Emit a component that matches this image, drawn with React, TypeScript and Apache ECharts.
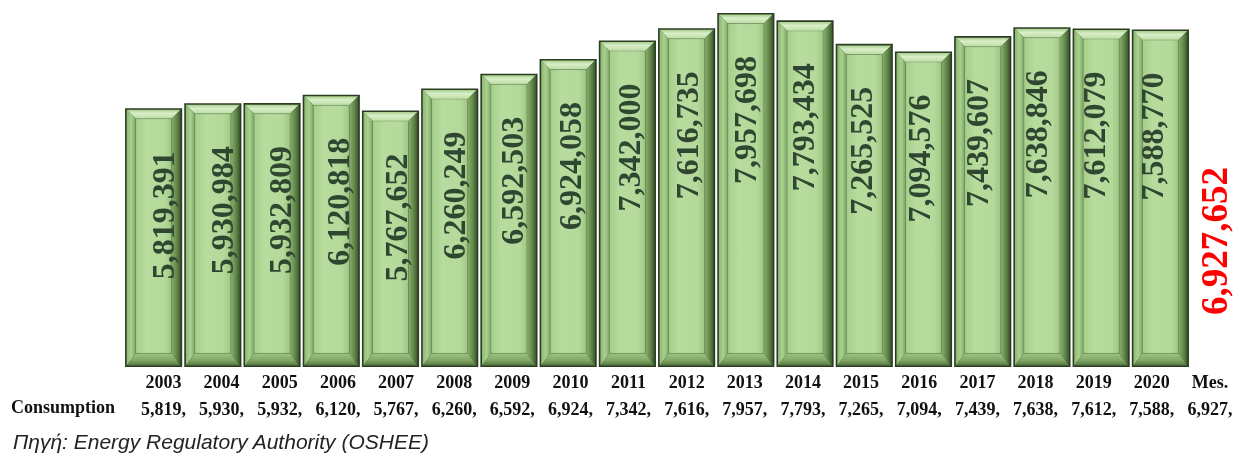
import React, { useEffect, useRef } from 'react';
import * as echarts from 'echarts';

const years = ['2003', '2004', '2005', '2006', '2007', '2008', '2009', '2010', '2011', '2012', '2013', '2014', '2015', '2016', '2017', '2018', '2019', '2020'];
const consumption = [5819391, 5930984, 5932809, 6120818, 5767652, 6260249, 6592503, 6924058, 7342000, 7616735, 7957698, 7793434, 7265525, 7094576, 7439607, 7638846, 7612079, 7588770];
const meanCategory = 'Mes.';
const rowTitle = 'Consumption';
const sourceText = 'Πηγή: Energy Regulatory Authority (OSHEE)';

const SERIF = '"Liberation Serif", "Times New Roman", serif';

export default function App() {
  const ref = useRef<HTMLDivElement>(null);
  useEffect(() => {
    const chart = echarts.init(ref.current!, null, { renderer: 'svg' });
    const mean = consumption.reduce((a, b) => a + b, 0) / consumption.length;
    const fmt = (v: number) => Math.round(v).toLocaleString('en-US');
    const tableCats = [...years, meanCategory];
    const tableVals = [...consumption, mean].map((v) => Math.floor(v / 1000).toLocaleString('en-US') + ',');
    const G = echarts.graphic;

    const renderItem = (params: any, api: any) => {
      const cat = api.value(0);
      const val = api.value(1);
      const top = api.coord([cat, val]);
      const bot = api.coord([cat, 0]);
      const bw = api.size([1, 0])[0] * 0.965;
      const x0 = top[0] - bw / 2;
      const x1 = top[0] + bw / 2;
      const y0 = top[1];
      const y1 = bot[1];
      const o = 1.6;
      const b = 9;
      const bb = 12;
      const ox0 = x0 + o, ox1 = x1 - o, oy0 = y0 + o, oy1 = y1 - o;
      const ix0 = ox0 + b, ix1 = ox1 - b, iy0 = oy0 + b, iy1 = oy1 - bb;
      return {
        type: 'group',
        children: [
          { type: 'rect', shape: { x: x0, y: y0, width: bw, height: y1 - y0 }, style: { fill: '#2a3d22' } },
          {
            type: 'polygon',
            shape: { points: [[ox0, oy0], [ox1, oy0], [ix1, iy0], [ix0, iy0]] },
            style: { fill: new G.LinearGradient(0, 0, 0, 1, [{ offset: 0, color: '#a9cf8e' }, { offset: 0.4, color: '#d8efc8' }, { offset: 1, color: '#bcdca5' }]) },
          },
          {
            type: 'polygon',
            shape: { points: [[ox0, oy0], [ix0, iy0], [ix0, iy1], [ox0, oy1]] },
            style: { fill: new G.LinearGradient(0, 0, 1, 0, [{ offset: 0, color: '#8fb874' }, { offset: 0.5, color: '#a9d08e' }, { offset: 1, color: '#7fa866' }]) },
          },
          {
            type: 'polygon',
            shape: { points: [[ox1, oy0], [ox1, oy1], [ix1, iy1], [ix1, iy0]] },
            style: { fill: new G.LinearGradient(0, 0, 1, 0, [{ offset: 0, color: '#8ab26f' }, { offset: 0.6, color: '#5f8448' }, { offset: 1, color: '#3d5a2c' }]) },
          },
          {
            type: 'polygon',
            shape: { points: [[ox0, oy1], [ix0, iy1], [ix1, iy1], [ox1, oy1]] },
            style: { fill: new G.LinearGradient(0, 0, 0, 1, [{ offset: 0, color: '#9ec584' }, { offset: 0.6, color: '#7ea564' }, { offset: 1, color: '#54763e' }]) },
          },
          {
            type: 'rect',
            shape: { x: ix0, y: iy0, width: ix1 - ix0, height: iy1 - iy0 },
            style: {
              fill: new G.LinearGradient(0, 0, 1, 0, [{ offset: 0, color: '#a6ce8b' }, { offset: 0.3, color: '#b7dc9e' }, { offset: 0.8, color: '#b4d99b' }, { offset: 1, color: '#9fc784' }]),
              stroke: 'rgba(70,100,50,0.35)',
              lineWidth: 0.8,
            },
          },
        ],
      };
    };

    chart.setOption({
      animation: false,
      grid: [
        { left: 124, right: 49, top: 0, bottom: 89 },
        { left: 134.4, width: 1105.8, top: 0, bottom: 89 },
      ],
      xAxis: [
        { type: 'category', gridIndex: 0, data: years, show: false },
        {
          type: 'category', gridIndex: 1, data: tableCats, position: 'bottom',
          axisLine: { show: false }, axisTick: { show: false },
          axisLabel: { interval: 0, margin: 6, color: '#111', fontFamily: SERIF, fontWeight: 'bold', fontSize: 18 },
        },
        {
          type: 'category', gridIndex: 1, data: tableCats, position: 'bottom', offset: 27,
          axisLine: { show: false }, axisTick: { show: false },
          axisLabel: {
            interval: 0, margin: 6, color: '#111', fontFamily: SERIF, fontWeight: 'bold', fontSize: 18,
            formatter: (_v: string, i: number) => tableVals[i],
          },
        },
      ],
      yAxis: [
        { type: 'value', gridIndex: 0, min: 0, max: 8250000, show: false },
        { type: 'value', gridIndex: 1, min: 0, max: 8250000, show: false },
      ],
      series: [
        {
          type: 'custom',
          xAxisIndex: 0,
          yAxisIndex: 0,
          data: consumption.map((v, i) => [i, v]),
          encode: { x: 0, y: 1 },
          renderItem,
          silent: true,
        },
        {
          type: 'bar',
          xAxisIndex: 1,
          yAxisIndex: 1,
          data: consumption,
          barWidth: 4,
          itemStyle: { color: 'rgba(0,0,0,0)' },
          silent: true,
          label: {
            show: true,
            position: 'insideTop',
            distance: 43,
            rotate: 90,
            align: 'right',
            verticalAlign: 'middle',
            color: '#2f4631',
            fontFamily: SERIF,
            fontWeight: 'bold',
            fontSize: 32,
            formatter: (p: any) => fmt(p.value),
          },
        },
      ],
      graphic: [
        {
          type: 'text', left: 11, top: 398,
          style: { text: rowTitle, font: `bold 18px ${SERIF}`, fill: '#111' },
        },
        {
          type: 'text', left: 13, top: 431,
          style: { text: sourceText, font: 'italic 21px "Liberation Sans", Arial, sans-serif', fill: '#222' },
        },
        {
          type: 'text', x: 1214, y: 241, rotation: Math.PI / 2,
          style: { text: fmt(mean), font: `bold 37px ${SERIF}`, fill: '#ff0000', align: 'center', verticalAlign: 'middle', textAlign: 'center', textVerticalAlign: 'middle' },
        },
      ],
    });
    return () => chart.dispose();
  }, []);
  return <div ref={ref} style={{ position: 'fixed', left: 0, top: 0, width: 1239, height: 456 }} />;
}
